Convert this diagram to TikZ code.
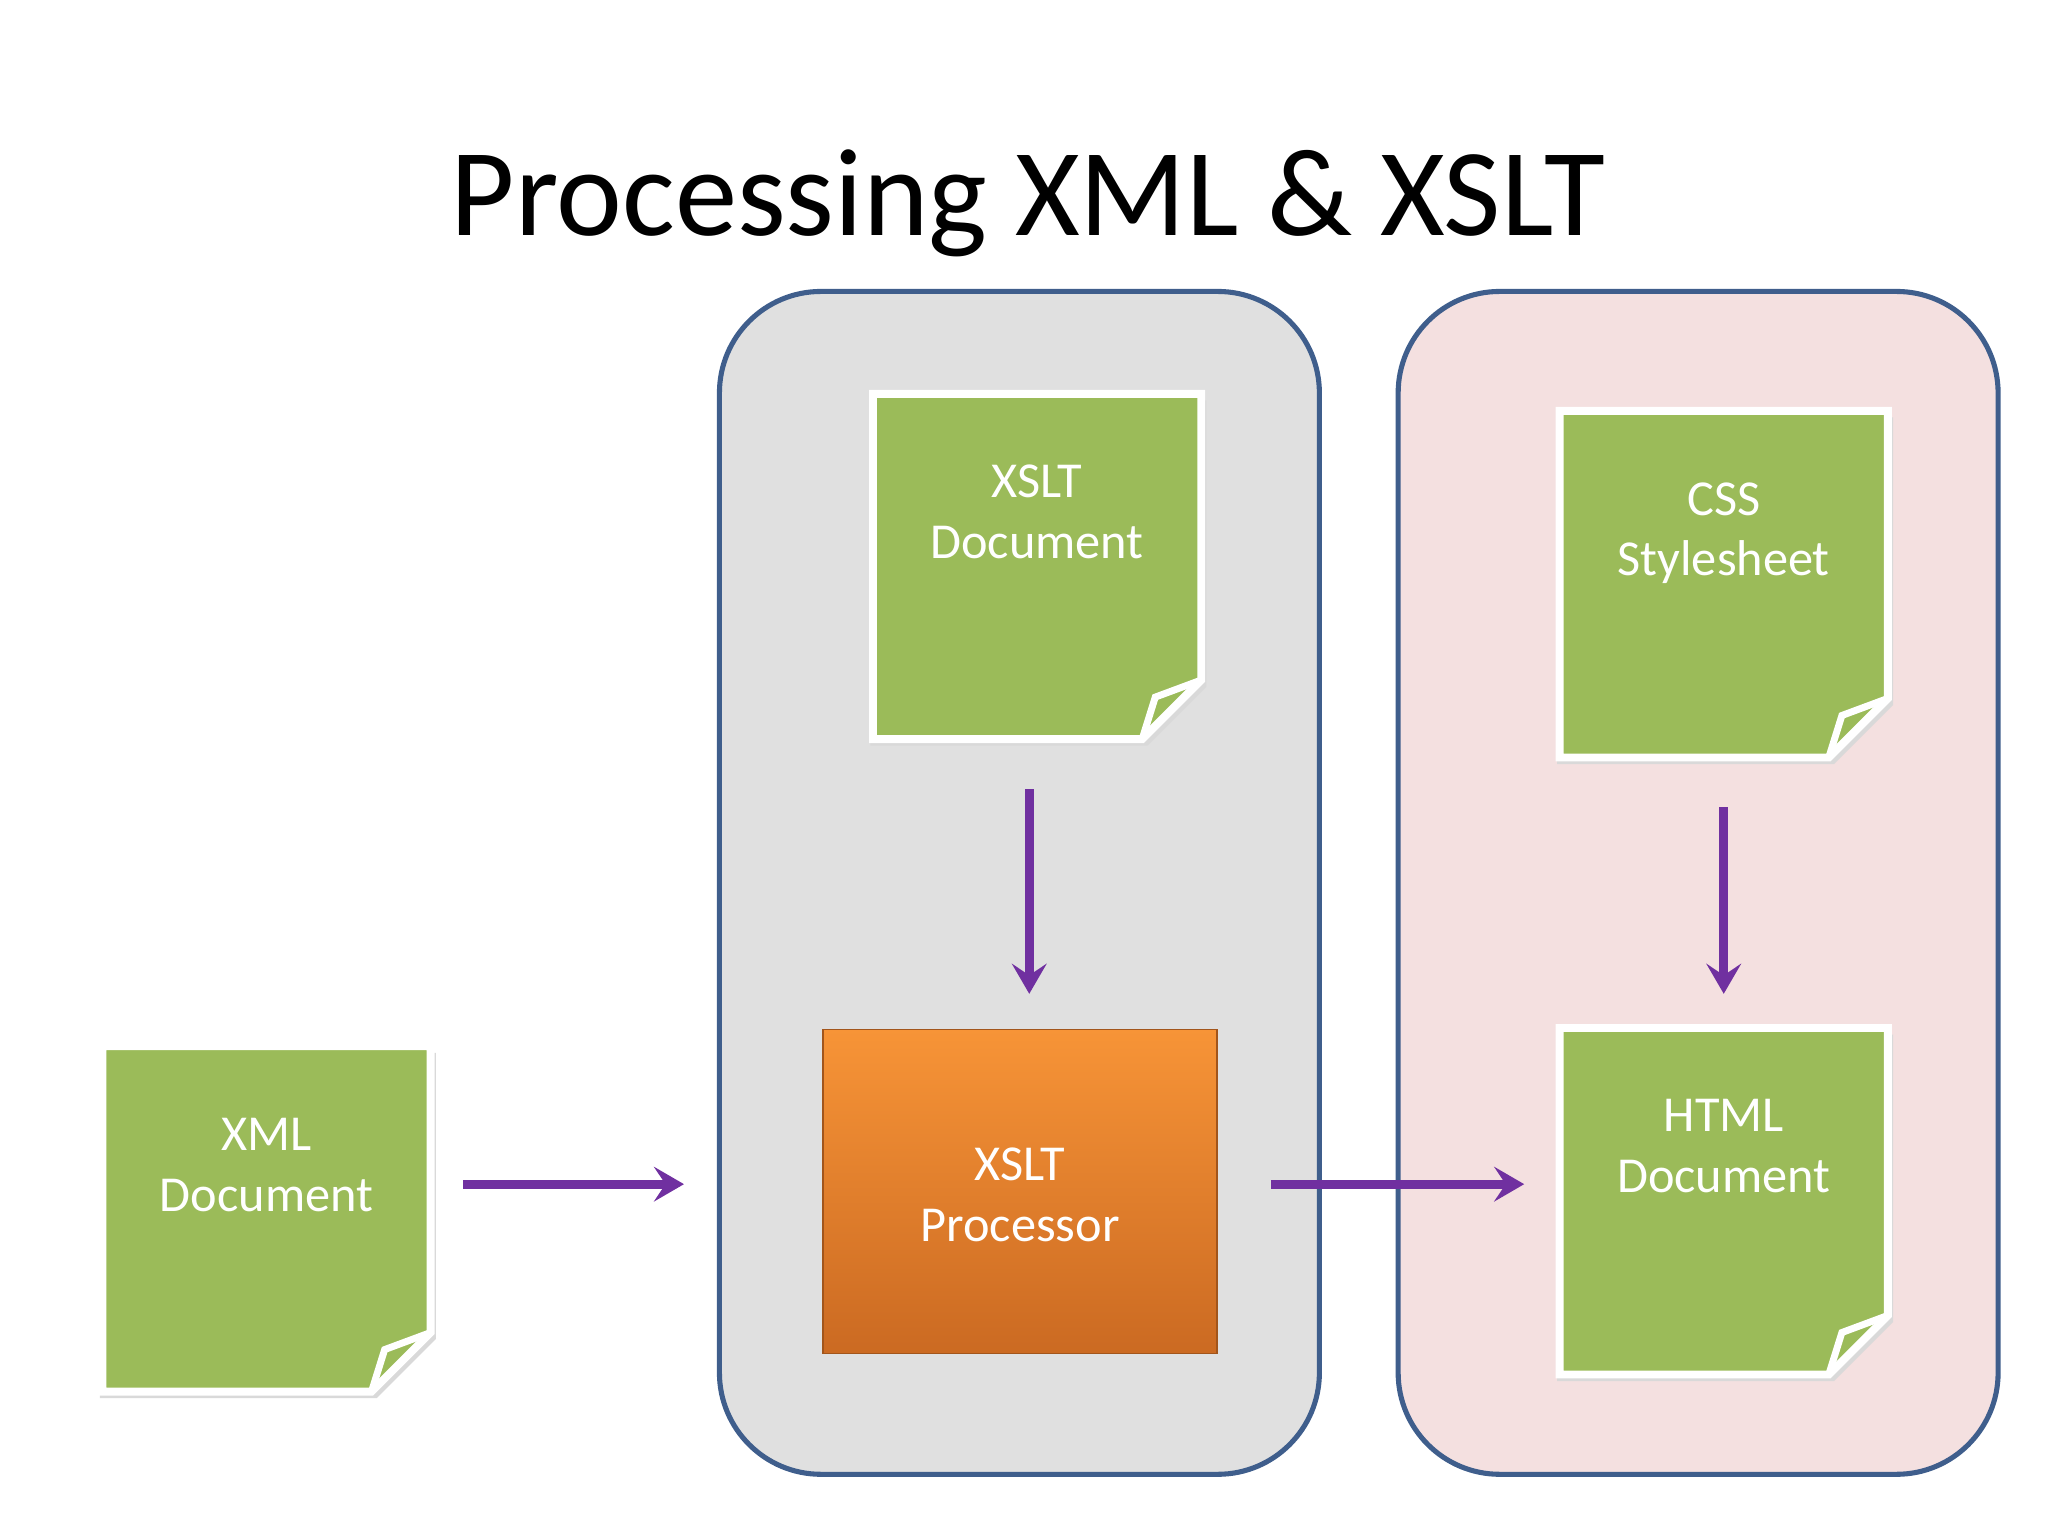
\documentclass[tikz,border=0pt]{standalone}
\usepackage{fontspec}
\setmainfont{Carlito}
\usetikzlibrary{arrows.meta}
\definecolor{ngreen}{HTML}{9BBB59}
\definecolor{boxline}{HTML}{3F5E8C}
\definecolor{purp}{HTML}{7030A0}
\definecolor{otop}{HTML}{F79437}
\definecolor{obot}{HTML}{CB6A22}
\tikzset{
  cont/.style={draw=boxline,line width=1.1pt,rounded corners=22pt},
  notefill/.style={fill=ngreen,draw=white,line width=1.7pt,line join=miter},
  ntext/.style={text=white,font=\fontsize{10.9}{13.2}\selectfont,align=center},
  conn/.style={draw=purp,line width=1.9pt,-{Stealth[length=6.5pt,width=7.5pt,inset=2.5pt]}}
}
\newcommand{\mynote}[6]{%
  \path[fill=black!15] (#2-2,#3+5) -- (#4+4,#3+5) -- (#4+4,#5-45+5) -- (#4-45+4,#5+5) -- (#2-2,#5+5) -- cycle;
  \path[notefill] (#2,#3) -- (#4,#3) -- (#4,#5-45) -- (#4-45,#5) -- (#2,#5) -- cycle;
  \draw[white,line width=1.5pt,line join=miter] (#4,#5-45) -- (#4-35,#5-32) -- (#4-45,#5);
  \node[minimum width={(#4-#2)*0.01cm},minimum height={(#5-#3)*0.01cm},inner sep=0pt] (#1) at ({(#2+#4)/2},{(#3+#5)/2}) {};
  \node[ntext,anchor=north] at ({(#2+#4)/2},#3+42) {#6};
}
\begin{document}
\begin{tikzpicture}[x=0.01cm,y=-0.01cm]
\useasboundingbox (0,0) rectangle (1560,1170);
\node[font=\fontsize{27}{32}\selectfont] (title) at (783,155) {Processing XML \& XSLT};
\path[cont,fill=black!12] (548,222) rectangle (1005,1123);
\path[cont,fill={rgb,255:red,244;green,224;blue,224}] (1065,222) rectangle (1522,1123);
\mynote{xslt}{665}{300}{915}{563}{XSLT\\Document}
\mynote{css}{1188}{313}{1438}{577}{CSS\\Stylesheet}
\mynote{html}{1188}{783}{1438}{1047}{HTML\\Document}
\mynote{xml}{78}{797}{328}{1060}{XML\\Document}
\path[top color=otop,bottom color=obot,draw=obot!80!black,line width=0.3pt] (627,784) rectangle (927,1031);
\node[minimum width=3cm,minimum height=2.47cm,inner sep=0pt] (proc) at (777,907) {};
\node[ntext] at (777,910) {XSLT\\Processor};
\coordinate (a1s) at (353,902); \coordinate (a1e) at (521,902);
\coordinate (a2s) at (968,902); \coordinate (a2e) at (1161,902);
\coordinate (a3s) at (784,601); \coordinate (a3e) at (784,757);
\coordinate (a4s) at (1313,615); \coordinate (a4e) at (1313,757);
\draw[conn] (a1s) -- (a1e);
\draw[conn] (a2s) -- (a2e);
\draw[conn] (a3s) -- (a3e);
\draw[conn] (a4s) -- (a4e);
\end{tikzpicture}
\end{document}
